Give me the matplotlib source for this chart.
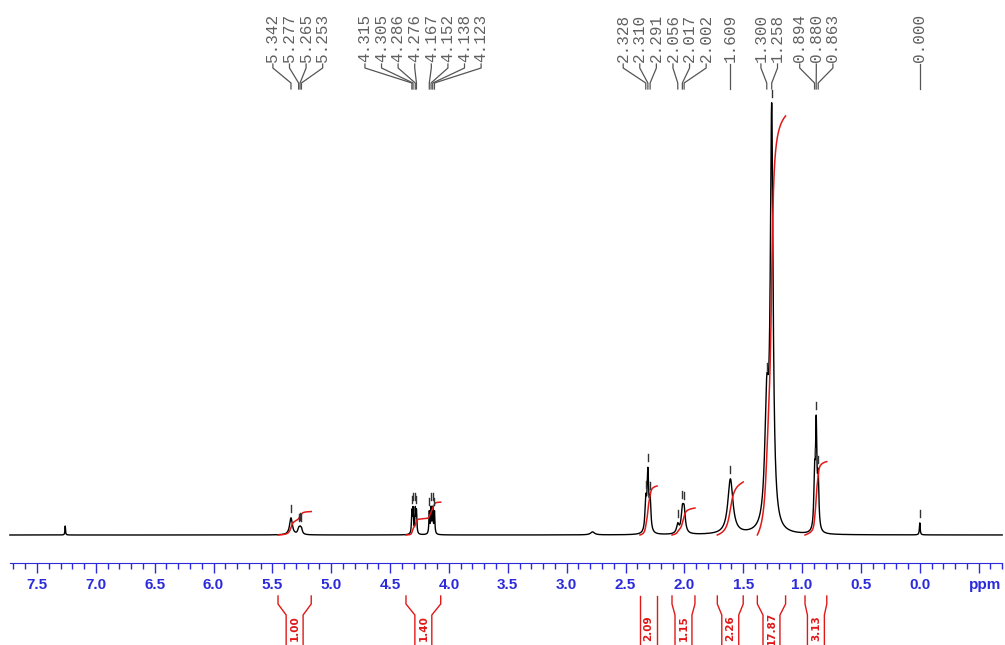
import numpy as np
import matplotlib.pyplot as plt

# peak list: position (ppm), height (px above baseline), half width (ppm)
peak_ppm = [7.260, 5.342, 5.277, 5.265, 5.253, 4.315, 4.305, 4.286, 4.276,
            4.167, 4.152, 4.138, 4.123, 2.780, 2.328, 2.310, 2.291, 2.056,
            2.017, 2.002, 1.609, 1.300, 1.258, 0.894, 0.880, 0.863, 0.000]
peak_height = [9, 17, 5, 5, 5, 22, 24, 24, 22,
               22, 25, 25, 22, 3, 30, 58, 30, 9,
               21, 21, 55, 118, 410, 50, 102, 48, 12]
peak_width = [0.003, 0.014, 0.009, 0.009, 0.009, 0.004, 0.004, 0.004, 0.004,
              0.004, 0.004, 0.004, 0.004, 0.02, 0.008, 0.008, 0.008, 0.012,
              0.012, 0.012, 0.026, 0.02, 0.014, 0.007, 0.007, 0.007, 0.004]

# picked peaks shown at the top
labelled = [5.342, 5.277, 5.265, 5.253, 4.315, 4.305, 4.286, 4.276,
            4.167, 4.152, 4.138, 4.123, 2.328, 2.310, 2.291, 2.056,
            2.017, 2.002, 1.609, 1.300, 1.258, 0.894, 0.880, 0.863, 0.000]

# integration regions and values
int_ranges = [(5.452, 5.17), (4.365, 4.07), (2.377, 2.232), (2.105, 1.91),
              (1.72, 1.50), (1.38, 1.14), (0.975, 0.79)]
int_values = [1.00, 1.40, 2.09, 1.15, 2.26, 17.87, 3.13]

int_scale = 23.45          # px of integral curve per unit
label_gap = 0.141          # ppm between peak labels
blue = '#2b2bdc'
red = '#e01818'


def spectrum(x):
    y = np.zeros_like(x)
    for p, h, w in zip(peak_ppm, peak_height, peak_width):
        y += h / (1 + ((x - p) / w) ** 2)
    return y


def spread(xs, gap):
    groups = [[x] for x in sorted(xs, reverse=True)]

    def place(g):
        c = np.mean(g)
        return [c + gap * ((len(g) - 1) / 2 - i) for i in range(len(g))]

    merged = True
    while merged:
        merged = False
        for i in range(len(groups) - 1):
            if place(groups[i])[-1] - place(groups[i + 1])[0] < gap:
                groups[i] = groups[i] + groups[i + 1]
                del groups[i + 1]
                merged = True
                break
    out = []
    for g in groups:
        out += place(g)
    return out


fig = plt.figure(figsize=(10.05, 6.45), dpi=100)
ax = fig.add_axes([0, 0, 1, 1])
ax.set_xlim(7.814, -0.724)
ax.set_ylim(-110, 535)

x = np.linspace(7.73, -0.70, 30000)
y = spectrum(x)
ax.plot(x, y, color='black', lw=1)

# integral curves
for (a, b), v in zip(int_ranges, int_values):
    xi = np.linspace(a, b, 800)
    yi = np.cumsum(spectrum(xi))
    yi = yi / yi[-1] * v * int_scale
    ax.plot(xi, yi, color=red, lw=1.1)

# peak pick marks and labels
for p in labelled:
    top = spectrum(np.array([p]))[0]
    ax.plot([p, p], [top + 6, top + 13], color='#333333', lw=1)

for p, lx in zip(sorted(labelled, reverse=True), spread(labelled, label_gap)):
    ax.text(lx, 521, f"{p:.3f}", rotation=90, ha='center', va='top',
            family='Liberation Mono', fontsize=11.5, color='#606060')
    ax.plot([lx, lx, p, p], [471, 467, 452, 446], color='#555555', lw=0.9)

# integration brackets
hw = 0.072
for (a, b), v in zip(int_ranges, int_values):
    c = (a + b) / 2
    if (a - b) / 2 <= hw + 0.005:
        ax.plot([a, a], [-61, -115], color=red, lw=1)
        ax.plot([b, b], [-61, -115], color=red, lw=1)
    else:
        ax.plot([a, a, c + hw, c + hw], [-61, -69, -80, -115], color=red, lw=1)
        ax.plot([b, b, c - hw, c - hw], [-61, -69, -80, -115], color=red, lw=1)
    ax.text(c, -93, f"{v:.2f}", rotation=90, ha='center', va='center',
            fontsize=7.5, fontweight='bold', color=red, family='DejaVu Sans')

# ppm axis
for s in ['left', 'right', 'top']:
    ax.spines[s].set_visible(False)
ax.spines['bottom'].set_position(('data', -28))
ax.spines['bottom'].set_bounds(7.73, -0.70)
ax.spines['bottom'].set_color(blue)
ax.set_yticks([])
major = np.arange(-0.5, 7.51, 0.5)
ax.set_xticks(major)
ax.set_xticklabels([f"{v:.1f}" if v > -0.25 else '' for v in major])
ax.set_xticks(np.arange(-0.7, 7.71, 0.1), minor=True)
ax.tick_params(axis='x', which='major', direction='out', length=7, width=1,
               color=blue, labelcolor=blue, labelsize=11, pad=4)
ax.tick_params(axis='x', which='minor', direction='out', length=4, width=1, color=blue)
for t in ax.get_xticklabels():
    t.set_fontweight('bold')
    t.set_family('Liberation Sans')
ax.text(-0.554, -50, 'ppm', ha='center', va='center', color=blue,
        fontsize=11, fontweight='bold', family='Liberation Sans')

fig.savefig('out.png', dpi=100)
